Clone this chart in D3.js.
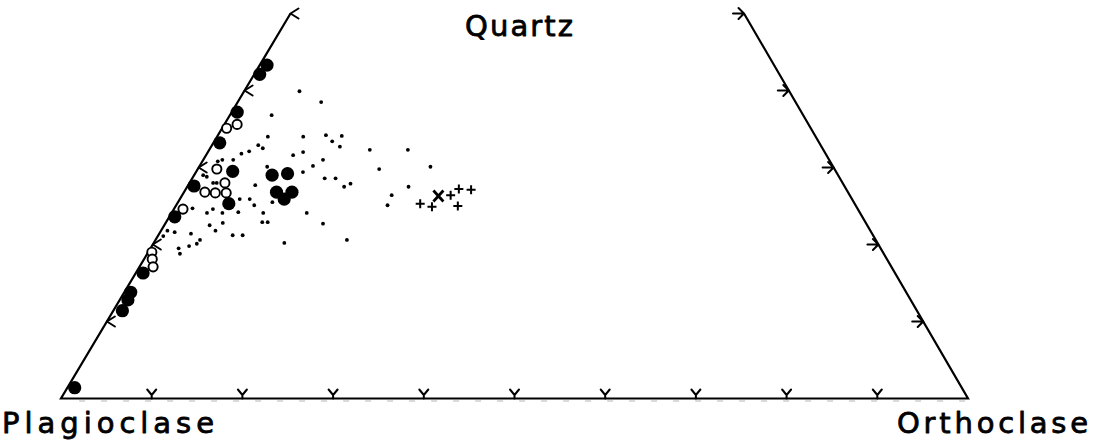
<!DOCTYPE html>
<html>
<head>
<meta charset="utf-8">
<script src="https://cdn.jsdelivr.net/npm/d3@7"></script>
<style>
  html, body { margin: 0; padding: 0; background: #fff; }
  svg { display: block; }
</style>
</head>
<body>
<svg id="chart" width="1094" height="445"></svg>
<script>
// Ternary composition plot: Quartz (apex), Plagioclase (left), Orthoclase (right).
// Each sample is given as [quartz %, orthoclase %]; plagioclase = 100 - Q - Or.

const filledSamples = [
  [43.3, 0.8], [42.1, 0.6], [37.2, 0.6], [33.2, 0.7], [29.5, 4.0],
  [27.6, 0.7], [25.3, 5.7], [29.0, 8.6], [29.2, 10.2], [26.8, 10.2],
  [25.9, 11.5], [26.8, 11.9], [23.6, 0.6], [16.3, 0.8], [13.8, 0.7],
  [12.8, 0.9], [11.4, 1.0], [1.4, 0.8]
];

const openSamples = [
  [35.6, 1.4], [35.1, 0.5], [29.8, 2.1], [28.0, 3.9], [26.8, 2.3],
  [26.7, 3.5], [26.7, 4.7], [24.6, 1.0], [19.0, 0.4], [18.1, 0.9],
  [17.1, 1.5]
];

const dotSamples = [
  [39.9, 6.1], [38.5, 9.2], [36.8, 4.6], [34.0, 5.6], [34.0, 9.5],
  [34.2, 11.9], [34.1, 13.7], [33.4, 13.0], [32.5, 5.8], [32.9, 5.1],
  [32.7, 14.2], [32.3, 17.7], [32.3, 21.9], [31.6, 9.6], [32.0, 10.5],
  [32.1, 4.5], [31.8, 3.8], [31.0, 13.2], [30.2, 12.5], [30.1, 7.5],
  [29.4, 11.8], [29.8, 20.0], [30.1, 25.5], [28.6, 14.6], [28.6, 15.8],
  [27.5, 17.3], [27.9, 17.8], [27.5, 24.4], [26.4, 23.1], [25.1, 23.3],
  [30.8, 1.7], [31.0, 2.1], [31.0, 3.3], [27.7, 7.4], [28.0, 2.6],
  [28.0, 3.0], [29.0, 1.0], [28.8, 1.5], [25.9, 6.6], [25.9, 7.7],
  [25.1, 8.6], [25.5, 10.4], [24.7, 2.0], [24.1, 3.9], [24.6, 4.3],
  [24.1, 5.6], [24.2, 7.3], [24.1, 10.1], [24.1, 14.9], [22.9, 10.6],
  [22.9, 11.2], [22.5, 5.0], [22.8, 6.3], [22.7, 17.4], [21.8, 0.7],
  [21.6, 1.6], [21.1, 0.6], [21.8, 6.0], [21.4, 3.5], [21.2, 8.2],
  [21.2, 9.3], [20.6, 4.9], [20.1, 4.8], [19.8, 4.1], [19.5, 3.1],
  [18.8, 3.6], [20.2, 14.4], [20.6, 21.1]
];

const plusSamples = [
  [26.4, 29.6], [27.2, 30.1], [27.1, 31.5], [25.3, 26.8], [24.9, 28.3],
  [25.0, 31.1]
];

const crossSamples = [
  [26.3, 28.3]
];

const baseTicks = [10, 20, 30, 40, 50, 60, 70, 80, 90];   // orthoclase %
const sideTicks = [10, 20, 30, 40, 50];                   // quartz %
const quartzTop = 50;                                     // diagram is cut at Q = 50 %

const apexLabels = ["Quartz", "Plagioclase", "Orthoclase"];

// ---- scales ---------------------------------------------------------------
const orScale = d3.scaleLinear().domain([0, 100]).range([61, 968]);
const qY      = d3.scaleLinear().domain([0, 100]).range([398.5, -371.5]);
const qShift  = d3.scaleLinear().domain([0, 100]).range([0, 459]);

function pos(q, or) {
  return [orScale(or) + qShift(q), qY(q)];
}

const svg = d3.select("#chart");
const ink = "#000";

// ---- frame ----------------------------------------------------------------
const line = d3.line();
svg.append("path")
  .attr("d", line([pos(quartzTop, 0), pos(0, 0), pos(0, 100), pos(quartzTop, 100 - quartzTop)]))
  .attr("fill", "none")
  .attr("stroke", ink)
  .attr("stroke-width", 2.2)
  .attr("stroke-linejoin", "miter");

// faint double-stroke under the base line
svg.append("path")
  .attr("d", line([pos(0, 2), pos(0, 100)]))
  .attr("transform", "translate(0,2.5)")
  .attr("fill", "none")
  .attr("stroke", "#b5b5b5")
  .attr("stroke-width", 1)
  .attr("stroke-dasharray", "6 16");

// ---- arrow ticks ----------------------------------------------------------
const tickG = svg.append("g")
  .attr("fill", "none")
  .attr("stroke", ink)
  .attr("stroke-width", 2)
  .attr("stroke-linecap", "round")
  .attr("stroke-linejoin", "round");

// base (orthoclase) ticks: small "v" resting on the line
tickG.selectAll(".tb").data(baseTicks).join("path")
  .attr("class", "tb")
  .attr("transform", d => `translate(${pos(0, d)})`)
  .attr("d", "M-4.5,-9 L0,-3.5 L4.5,-9 M0,-3.5 L0,0");

// left side (quartz) ticks: "<" head on the line, opening inward
tickG.selectAll(".tl").data(sideTicks).join("path")
  .attr("class", "tl")
  .attr("transform", d => `translate(${pos(d, 0)})`)
  .attr("d", "M8,-5 L0,0 L8,5");

// right side ticks: "->" pointing onto the line
tickG.selectAll(".tr").data(sideTicks).join("path")
  .attr("class", "tr")
  .attr("transform", d => `translate(${pos(d, 100 - d)})`)
  .attr("d", "M-11,0 L0,0 M-5.5,-5.5 L0,0 L-5.5,5.5");

// ---- samples --------------------------------------------------------------
const pts = svg.append("g");

pts.selectAll(".dot").data(dotSamples).join("circle")
  .attr("class", "dot")
  .attr("cx", d => pos(d[0], d[1])[0])
  .attr("cy", d => pos(d[0], d[1])[1])
  .attr("r", 1.9)
  .attr("fill", ink);

pts.selectAll(".open").data(openSamples).join("circle")
  .attr("class", "open")
  .attr("cx", d => pos(d[0], d[1])[0])
  .attr("cy", d => pos(d[0], d[1])[1])
  .attr("r", 4.6)
  .attr("fill", "#fff")
  .attr("stroke", ink)
  .attr("stroke-width", 1.9);

pts.selectAll(".filled").data(filledSamples).join("circle")
  .attr("class", "filled")
  .attr("cx", d => pos(d[0], d[1])[0])
  .attr("cy", d => pos(d[0], d[1])[1])
  .attr("r", 6.6)
  .attr("fill", ink);

pts.selectAll(".plus").data(plusSamples).join("path")
  .attr("class", "plus")
  .attr("transform", d => `translate(${pos(d[0], d[1])})`)
  .attr("d", "M-4.5,0 L4.5,0 M0,-4.5 L0,4.5")
  .attr("stroke", ink)
  .attr("stroke-width", 2);

pts.selectAll(".cross").data(crossSamples).join("path")
  .attr("class", "cross")
  .attr("transform", d => `translate(${pos(d[0], d[1])})`)
  .attr("d", "M-5,-5.5 L5,5.5 M-5,5.5 L5,-5.5")
  .attr("stroke", ink)
  .attr("stroke-width", 2.8);

// ---- apex labels ----------------------------------------------------------
const labelFont = "'DejaVu Sans', Verdana, sans-serif";
const labelSpec = [
  { text: apexLabels[0], x: 465, y: 36,  w: 108 },
  { text: apexLabels[1], x: 2,   y: 433, w: 212 },
  { text: apexLabels[2], x: 897, y: 433, w: 191 }
];
svg.selectAll(".apex").data(labelSpec).join("text")
  .attr("class", "apex")
  .attr("x", d => d.x)
  .attr("y", d => d.y)
  .attr("textLength", d => d.w)
  .attr("lengthAdjust", "spacing")
  .attr("font-family", labelFont)
  .attr("font-size", 29)
  .attr("fill", ink)
  .attr("stroke", ink)
  .attr("stroke-width", 0.8)
  .attr("stroke-linejoin", "round")
  .text(d => d.text);
</script>
</body>
</html>
